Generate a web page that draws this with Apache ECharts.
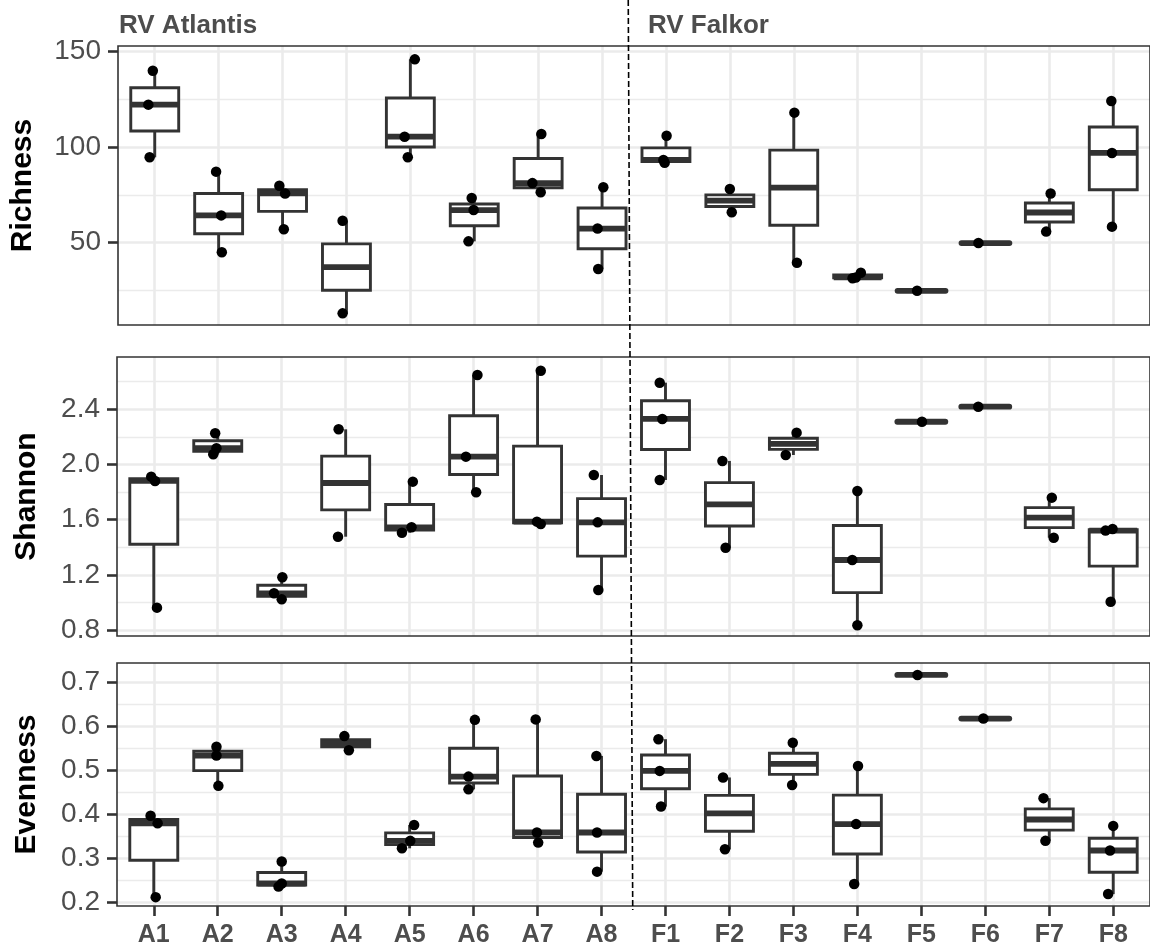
<!DOCTYPE html>
<html><head><meta charset="utf-8">
<script src="https://cdn.jsdelivr.net/npm/echarts@6/dist/echarts.min.js"></script>
<style>html,body{margin:0;padding:0;background:#fff}#c{width:1150px;height:949px}</style>
</head><body><div id="c"></div>
<script>
const categories = ['A1','A2','A3','A4','A5','A6','A7','A8','F1','F2','F3','F4','F5','F6','F7','F8'];
const groupLabels = ['RV Atlantis', 'RV Falkor'];

const richness = [
  [140, 122.3, 94.7], [87.2, 64.3, 45], [79.8, 75.8, 57], [61.5, 13],
  [146, 105.5, 94.7], [73.4, 67.1, 50.7], [106.9, 81.2, 76.4], [79, 57.4, 36.2],
  [106, 93.3, 91.8], [78.1, 65.9], [118.1, 39.5], [34.3, 31.8, 31.4],
  [24.8], [49.8], [75.8, 55.8], [124.2, 97, 58.4]
];
const richnessJitter = [
  [-0.03, -0.10, -0.08], [-0.04, 0.04, 0.05], [-0.05, 0.04, 0.02], [-0.06, -0.06],
  [0.07, -0.09, -0.04], [-0.04, -0.01, -0.09], [0.05, -0.09, 0.04], [0.02, -0.07, -0.06],
  [0.01, -0.04, -0.02], [0.00, 0.03], [0.01, 0.05], [0.05, -0.03, -0.08],
  [-0.07], [-0.11], [0.02, -0.05], [-0.03, -0.02, -0.02]
];
const shannon = [
  [1.911, 1.880, 0.962], [2.225, 2.117, 2.073], [1.182, 1.066, 1.022], [2.254, 1.476],
  [1.875, 1.544, 1.505], [2.648, 2.056, 1.798], [2.679, 1.585, 1.568], [1.923, 1.580, 1.090],
  [2.592, 2.329, 1.887], [2.025, 1.396], [2.230, 2.068], [1.807, 1.307, 0.834],
  [2.309], [2.418], [1.759, 1.469], [1.532, 1.520, 1.005]
];
const shannonJitter = [
  [-0.04, 0.02, 0.05], [-0.04, -0.02, -0.07], [0.01, -0.12, 0.00], [-0.11, -0.12],
  [0.05, 0.03, -0.12], [0.06, -0.12, 0.04], [0.05, -0.01, 0.05], [-0.12, -0.06, -0.05],
  [-0.09, -0.05, -0.09], [-0.11, -0.06], [0.05, -0.12], [0.00, -0.08, 0.00],
  [0.01], [-0.11], [0.04, 0.07], [-0.01, -0.12, -0.04]
];
const evenness = [
  [0.396, 0.379, 0.211], [0.553, 0.533, 0.464], [0.292, 0.242, 0.235], [0.577, 0.545],
  [0.375, 0.339, 0.322], [0.614, 0.485, 0.456], [0.615, 0.358, 0.335], [0.532, 0.358, 0.269],
  [0.570, 0.498, 0.417], [0.483, 0.320], [0.562, 0.466], [0.509, 0.377, 0.241],
  [0.716], [0.617], [0.436, 0.339], [0.373, 0.317, 0.218]
];
const evennessJitter = [
  [-0.05, 0.06, 0.03], [-0.02, -0.02, 0.01], [0.00, 0.00, -0.05], [-0.02, 0.05],
  [0.07, 0.01, -0.12], [0.02, -0.08, -0.08], [-0.03, -0.01, 0.01], [-0.08, -0.07, -0.07],
  [-0.11, -0.09, -0.07], [-0.10, -0.07], [-0.01, -0.02], [0.01, -0.02, -0.05],
  [-0.06], [-0.03], [-0.09, -0.06], [0.00, -0.05, -0.08]
];

const richnessTicks = [50, 100, 150];
const richnessMinor = [25, 75, 125];
const shannonTicks = [0.8, 1.2, 1.6, 2.0, 2.4];
const shannonMinor = [1.0, 1.4, 1.8, 2.2, 2.6];
const evennessTicks = [0.2, 0.3, 0.4, 0.5, 0.6, 0.7];
const evennessMinor = [0.25, 0.35, 0.45, 0.55, 0.65];

// separator position between the two ships (category units, top / bottom)
const separator = [7.41, 7.488];

const FONT = 'Liberation Sans, Arial, Helvetica, sans-serif';
const panels = [
  { name: 'Richness', values: richness, jitter: richnessJitter, ticks: richnessTicks, minor: richnessMinor,
    min: 6.9, max: 153.0, dec: 0, top: 46, height: 279, nameGap: 80 },
  { name: 'Shannon', values: shannon, jitter: shannonJitter, ticks: shannonTicks, minor: shannonMinor,
    min: 0.7565, max: 2.778, dec: 1, top: 357, height: 279, nameGap: 75 },
  { name: 'Evenness', values: evenness, jitter: evennessJitter, ticks: evennessTicks, minor: evennessMinor,
    min: 0.1909, max: 0.7432, dec: 1, top: 663, height: 243, nameGap: 75 }
];

const xIdx = categories.map((c, i) => i);
const grids = [], xAxes = [], yAxes = [], datasets = [], series = [];
const tickStyle = { color: '#333333', width: 2.6 };

panels.forEach((p, k) => {
  const last = k === panels.length - 1;
  grids.push({ left: 117, width: 1039, top: p.top, height: p.height, show: true, z: 10,
    backgroundColor: 'transparent', borderColor: '#333333', borderWidth: 1.6 });
  xAxes.push({ type: 'value', gridIndex: k, min: -0.575, max: 15.575, position: 'bottom',
    axisLine: { show: false, onZero: false }, splitLine: { show: false },
    axisTick: { show: last, customValues: xIdx, length: 10, lineStyle: tickStyle },
    axisLabel: { show: last, customValues: xIdx, formatter: v => categories[Math.round(v)],
      margin: 17, fontSize: 25, fontWeight: 'bold', color: '#4D4D4D', fontFamily: FONT } });
  yAxes.push({ type: 'value', gridIndex: k, min: p.min, max: p.max, position: 'left',
    name: p.name, nameLocation: 'middle', nameGap: p.nameGap,
    nameTextStyle: { fontSize: 30, fontWeight: 'bold', color: '#000', fontFamily: FONT },
    axisLine: { show: false, onZero: false }, splitLine: { show: false },
    axisTick: { customValues: p.ticks, length: 10, lineStyle: tickStyle },
    axisLabel: { customValues: p.ticks, formatter: v => v.toFixed(p.dec), margin: 17,
      fontSize: 28, color: '#4D4D4D', fontFamily: FONT } });

  datasets.push({ source: p.values });
  datasets.push({ fromDatasetIndex: 2 * k, transform: { type: 'boxplot' } });

  const gridLines = [];
  p.minor.forEach(v => gridLines.push({ yAxis: v, lineStyle: { color: '#EBEBEB', width: 1.4, type: 'solid' } }));
  p.ticks.forEach(v => gridLines.push({ yAxis: v, lineStyle: { color: '#EBEBEB', width: 2.6, type: 'solid' } }));
  xIdx.forEach(v => gridLines.push({ xAxis: v, lineStyle: { color: '#EBEBEB', width: 2.6, type: 'solid' } }));
  series.push({ type: 'line', xAxisIndex: k, yAxisIndex: k, data: [], z: 1, silent: true,
    markLine: { z: 1, silent: true, symbol: ['none', 'none'], label: { show: false }, animation: false, data: gridLines } });

  series.push({
    type: 'custom', xAxisIndex: k, yAxisIndex: k, datasetIndex: 2 * k + 1, z: 2,
    encode: { x: 'ItemName', y: ['Low', 'Q1', 'Q2', 'Q3', 'High'] },
    renderItem: function (params, api) {
      const i = params.dataIndex;
      const low = api.value('Low'), q1 = api.value('Q1'), q2 = api.value('Q2'), q3 = api.value('Q3'), high = api.value('High');
      const bw = api.size([0.75, 0])[0];
      const cx = api.coord([i, q2])[0];
      const yL = api.coord([i, low])[1], y1 = api.coord([i, q1])[1], y2 = api.coord([i, q2])[1],
            y3 = api.coord([i, q3])[1], yH = api.coord([i, high])[1];
      const st = { stroke: '#333333', lineWidth: 2.9, fill: null };
      const flat = Math.abs(y1 - y3) < 0.5;
      return { type: 'group', children: [
        { type: 'line', shape: { x1: cx, y1: y3, x2: cx, y2: yH }, style: st },
        { type: 'line', shape: { x1: cx, y1: y1, x2: cx, y2: yL }, style: st },
        { type: 'rect', shape: { x: cx - bw / 2, y: y3, width: bw, height: y1 - y3 },
          style: { fill: '#ffffff', stroke: '#333333', lineWidth: 2.9 } },
        { type: 'line', shape: { x1: cx - bw / 2, y1: y2, x2: cx + bw / 2, y2: y2 },
          style: { stroke: '#333333', lineWidth: 5.8, lineCap: flat ? 'round' : 'butt' } }
      ] };
    }
  });

  const pts = [];
  p.values.forEach((arr, i) => arr.forEach((v, j) => pts.push([i + p.jitter[i][j], v])));
  series.push({ type: 'scatter', xAxisIndex: k, yAxisIndex: k, data: pts, z: 3,
    symbol: 'circle', symbolSize: 10.5, itemStyle: { color: '#000000', opacity: 1 } });
});

const chart = echarts.init(document.getElementById('c'));
chart.setOption({
  animation: false, backgroundColor: '#ffffff',
  grid: grids, xAxis: xAxes, yAxis: yAxes, dataset: datasets, series: series
});

const sepTop = chart.convertToPixel({ xAxisIndex: 0 }, separator[0]);
const sepBot = chart.convertToPixel({ xAxisIndex: 2 }, separator[1]);
chart.setOption({
  graphic: [
    { type: 'text', id: 'g0', left: 119, top: 13, z: 20,
      style: { text: groupLabels[0], fontSize: 26, fontWeight: 'bold', fill: '#4D4D4D', fontFamily: FONT } },
    { type: 'text', id: 'g1', left: 648, top: 13, z: 20,
      style: { text: groupLabels[1], fontSize: 26, fontWeight: 'bold', fill: '#4D4D4D', fontFamily: FONT } },
    { type: 'line', id: 'sep', z: 20, silent: true,
      shape: { x1: sepTop, y1: 0, x2: sepBot, y2: 910 },
      style: { stroke: '#000000', lineWidth: 1.6, lineDash: [6, 3] } }
  ]
});
</script></body></html>
